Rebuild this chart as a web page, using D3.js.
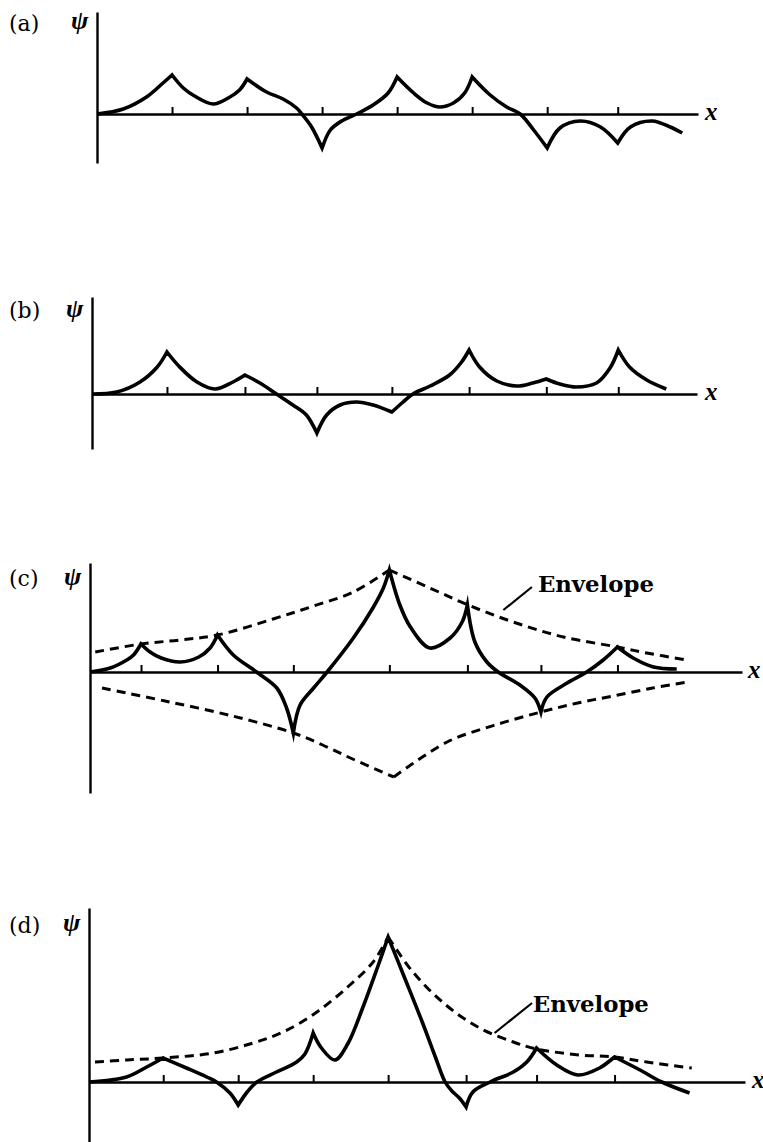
<!DOCTYPE html>
<html>
<head>
<meta charset="utf-8">
<script src="https://cdn.jsdelivr.net/npm/d3@7/dist/d3.min.js"></script>
<style>
  html, body { margin: 0; padding: 0; background: #fff; }
  svg { display: block; }
</style>
</head>
<body>
<svg id="chart" width="763" height="1142"></svg>
<script>
// x in lattice-spacing units, psi in arbitrary units.
// each wave function is split at the cusps (delta potentials)

var ticksA = [1, 2, 3, 4, 5, 6, 6.94];
var psiA = [
  [[0, 0], [0.35, 0.5], [0.66, 1.7], [0.88, 3.1], [1, 3.9]],
  [[1, 3.9], [1.15, 2.6], [1.3, 1.8], [1.55, 1.0], [1.75, 1.6], [1.9, 2.4], [2, 3.5]],
  [[2, 3.5], [2.26, 2.2], [2.48, 1.5], [2.66, 0.6], [2.73, 0], [2.86, -1.3], [3, -3.4]],
  [[3, -3.4], [3.11, -1.6], [3.26, -0.7], [3.46, 0], [3.68, 0.9], [3.88, 2.1], [4, 3.7]],
  [[4, 3.7], [4.22, 2.1], [4.4, 1.1], [4.57, 0.7], [4.75, 1.1], [4.9, 2.1], [5, 3.7]],
  [[5, 3.7], [5.24, 1.9], [5.46, 0.7], [5.64, 0], [5.82, -1.6], [6, -3.4]],
  [[6, -3.4], [6.17, -1.4], [6.44, -0.7], [6.71, -1.3], [6.94, -2.9]],
  [[6.94, -2.9], [7.11, -1.3], [7.4, -0.7], [7.64, -1.3], [7.8, -1.9]]
];

var ticksB = [1, 2.04, 3, 4, 5.03, 6.06, 7.02];
var psiB = [
  [[0, 0], [0.33, 0.2], [0.64, 1.2], [0.87, 2.7], [1, 4.2]],
  [[1, 4.2], [1.17, 2.7], [1.4, 1.2], [1.64, 0.5], [1.88, 1.2], [2.04, 1.9]],
  [[2.04, 1.9], [2.24, 1.1], [2.46, 0], [2.68, -1.1], [2.86, -2.1], [3, -3.9]],
  [[3, -3.9], [3.13, -2.1], [3.31, -1.1], [3.53, -0.8], [3.75, -1.1], [4, -1.8]],
  [[4, -1.8], [4.15, -0.8], [4.28, 0], [4.51, 0.8], [4.77, 1.9], [4.93, 3.2], [5.03, 4.4]],
  [[5.03, 4.4], [5.17, 2.7], [5.4, 1.3], [5.66, 0.8], [5.88, 1.1], [6.06, 1.5]],
  [[6.06, 1.5], [6.24, 1.0], [6.46, 0.7], [6.73, 1.1], [6.91, 2.6], [7.02, 4.4]],
  [[7.02, 4.4], [7.17, 2.7], [7.4, 1.4], [7.66, 0.5]]
];

var ticksC = [0.68, 1.7, 2.71, 3.99, 5.03, 6.01, 7.03];
var psiC = [
  [[0, 0], [0.27, 0.4], [0.49, 1.2], [0.58, 1.7], [0.68, 2.8]],
  [[0.68, 2.8], [0.8, 2.0], [0.95, 1.4], [1.2, 1.0], [1.45, 1.5], [1.6, 2.4], [1.7, 3.7]],
  [[1.7, 3.7], [1.91, 1.7], [2.22, 0], [2.49, -1.6], [2.62, -3.6], [2.71, -6.1]],
  [[2.71, -6.1], [2.8, -3.3], [2.98, -1.6], [3.16, 0], [3.51, 3.4], [3.77, 6.4], [3.91, 8.4], [3.99, 10.2]],
  [[3.99, 10.2], [4.13, 6.7], [4.27, 4.5], [4.53, 2.4], [4.8, 3.4], [4.96, 5.0], [5.03, 6.7]],
  [[5.03, 6.7], [5.13, 3.0], [5.29, 1.0], [5.44, 0], [5.73, -1.3], [5.93, -2.6], [6.01, -4.0]],
  [[6.01, -4.0], [6.09, -2.5], [6.36, -1.1], [6.62, 0], [6.84, 1.2], [7.03, 2.5]],
  [[7.03, 2.5], [7.24, 1.4], [7.51, 0.5], [7.82, 0.3]]
];
var envUpperC = [
  [[0.07, 2.0], [0.68, 2.8], [1.2, 3.2], [1.7, 3.7], [2.44, 5.3], [2.98, 6.6], [3.51, 8.0], [3.99, 10.2]],
  [[3.99, 10.2], [4.53, 8.4], [5.04, 6.7], [5.64, 5.0], [6.31, 3.5], [7.03, 2.5], [7.42, 1.9], [7.96, 1.2]]
];
var envLowerC = [
  [[0.16, -1.6], [1.0, -2.9], [1.9, -4.4], [2.71, -6.1], [3.1, -7.3], [3.5, -8.7], [4.05, -10.5]],
  [[4.05, -10.5], [4.76, -7.0], [5.4, -5.3], [6.01, -4.0], [6.5, -3.1], [6.97, -2.4], [7.5, -1.6], [7.97, -1.0]]
];

var ticksD = [0.99, 1.99, 2.99, 3.99, 5.03, 5.97, 7.01];
var psiD = [
  [[0, 0], [0.5, 0.5], [0.77, 1.5], [0.99, 2.4]],
  [[0.99, 2.4], [1.3, 1.4], [1.57, 0.5], [1.7, 0], [1.88, -1.1], [1.99, -2.3]],
  [[1.99, -2.3], [2.11, -1.0], [2.24, 0], [2.5, 1.0], [2.77, 2.0], [2.88, 2.8], [2.99, 4.9]],
  [[2.99, 4.9], [3.1, 3.4], [3.28, 2.2], [3.45, 3.8], [3.65, 7.4], [3.85, 11.5], [3.99, 14.5]],
  [[3.99, 14.5], [4.2, 10.6], [4.45, 5.9], [4.62, 2.5], [4.75, 0], [4.84, -0.9], [4.94, -1.6], [5.03, -2.5]],
  [[5.03, -2.5], [5.12, -1.0], [5.35, 0], [5.66, 1.0], [5.84, 2.0], [5.97, 3.4]],
  [[5.97, 3.4], [6.24, 1.7], [6.52, 0.7], [6.81, 1.4], [7.01, 2.5]],
  [[7.01, 2.5], [7.35, 1.2], [7.64, 0], [8.01, -1.1]]
];
var envUpperD = [
  [[0.08, 2.0], [0.5, 2.2], [0.99, 2.4], [1.66, 2.9], [2.19, 3.9], [2.59, 5.0], [3.04, 7.0], [3.48, 9.7], [3.79, 12.0], [3.99, 14.5]],
  [[3.99, 14.5], [4.32, 11.0], [4.76, 7.7], [5.21, 5.4], [5.66, 4.0], [5.97, 3.3], [6.55, 2.7], [7.01, 2.5], [7.44, 2.0], [8.04, 1.4]]
];

var panelNames = ['(a)', '(b)', '(c)', '(d)'];
var xDomains = [[0, 8.01], [0, 8.07], [0, 8.69], [0, 8.75]];
var psiDomains = [[-4.9, 10.2], [-5.5, 9.7], [-12.1, 10.9], [-6.0, 17.4]];
// envelope label: [text x, baseline psi, leader from x, psi, to x, psi]
var envLabelC = [5.97, 8.0, 5.89, 8.5, 5.51, 6.2];
var envLabelD = [5.92, 7.0, 5.91, 7.9, 5.41, 4.9];

// page layout (pixels)
var layout = [
  { left: 97, right: 698, top: 12, bottom: 163, nameY: 31, psiY: 29, xLabX: 705 },
  { left: 92, right: 697, top: 297, bottom: 449, nameY: 318, psiY: 317, xLabX: 705 },
  { left: 90, right: 742, top: 563, bottom: 793, nameY: 586, psiY: 585, xLabX: 748 },
  { left: 89, right: 745, top: 908, bottom: 1142, nameY: 933, psiY: 931, xLabX: 752 }
];

var panels = [
  { ticks: ticksA, psi: psiA, env: [] },
  { ticks: ticksB, psi: psiB, env: [] },
  { ticks: ticksC, psi: psiC, env: envUpperC.concat(envLowerC), label: envLabelC },
  { ticks: ticksD, psi: psiD, env: envUpperD, label: envLabelD }
];

var serif = '"Liberation Serif", "DejaVu Serif", serif';
var svg = d3.select('#chart');

panels.forEach(function(p, i) {
  var L = layout[i];
  var x = d3.scaleLinear().domain(xDomains[i]).range([L.left, L.right]);
  var y = d3.scaleLinear().domain(psiDomains[i]).range([L.bottom, L.top]);
  var g = svg.append('g').attr('class', 'panel');

  var line = d3.line()
    .x(function(d) { return x(d[0]); })
    .y(function(d) { return y(d[1]); })
    .curve(d3.curveCatmullRom.alpha(0.5));

  // x axis with small upward ticks
  var xAxis = d3.axisBottom(x)
    .tickValues(p.ticks)
    .tickSizeInner(-7)
    .tickSizeOuter(0)
    .tickFormat('');
  var ax = g.append('g')
    .attr('transform', 'translate(0,' + y(0) + ')')
    .call(xAxis);
  ax.select('.domain').attr('stroke', '#000').attr('stroke-width', 2.4);
  ax.selectAll('.tick line').attr('stroke', '#000').attr('stroke-width', 2);

  var yAxis = d3.axisLeft(y).tickValues([]).tickSizeOuter(0);
  var ay = g.append('g')
    .attr('transform', 'translate(' + x(0) + ',0)')
    .call(yAxis);
  ay.select('.domain').attr('stroke', '#000').attr('stroke-width', 2.4);

  // envelope (dashed)
  g.selectAll('path.env')
    .data(p.env)
    .join('path')
    .attr('class', 'env')
    .attr('d', line)
    .attr('fill', 'none')
    .attr('stroke', '#000')
    .attr('stroke-width', 3)
    .attr('stroke-dasharray', '9,6');

  // wave function: join segments into one path so cusps stay sharp
  var d = p.psi.map(function(seg, k) {
    var s = line(seg);
    return k ? 'L' + s.slice(1) : s;
  }).join('');
  g.append('path')
    .attr('class', 'psi')
    .attr('d', d)
    .attr('fill', 'none')
    .attr('stroke', '#000')
    .attr('stroke-width', 3.6)
    .attr('stroke-linejoin', 'miter')
    .attr('stroke-miterlimit', 12);

  if (p.label) {
    var a = p.label;
    g.append('line')
      .attr('x1', x(a[2])).attr('y1', y(a[3]))
      .attr('x2', x(a[4])).attr('y2', y(a[5]))
      .attr('stroke', '#000').attr('stroke-width', 2.2);
    g.append('text')
      .attr('x', x(a[0])).attr('y', y(a[1]))
      .style('font-family', '"DejaVu Serif", serif')
      .style('font-size', '22px')
      .style('font-weight', 'bold')
      .attr('textLength', 116)
      .attr('lengthAdjust', 'spacingAndGlyphs')
      .text('Envelope');
  }

  g.append('text')
    .attr('x', 9).attr('y', L.nameY)
    .style('font-family', '"DejaVu Serif", serif')
    .style('font-size', '22px')
    .text(panelNames[i]);
  g.append('text')
    .attr('x', L.left - 26).attr('y', L.psiY)
    .style('font-family', serif)
    .style('font-size', '26px')
    .style('font-style', 'italic')
    .style('font-weight', 'bold')
    .text('ψ');
  g.append('text')
    .attr('x', L.xLabX).attr('y', y(0) + 6)
    .style('font-family', serif)
    .style('font-size', '25px')
    .style('font-style', 'italic')
    .style('font-weight', 'bold')
    .text('x');
});
</script>
</body>
</html>
